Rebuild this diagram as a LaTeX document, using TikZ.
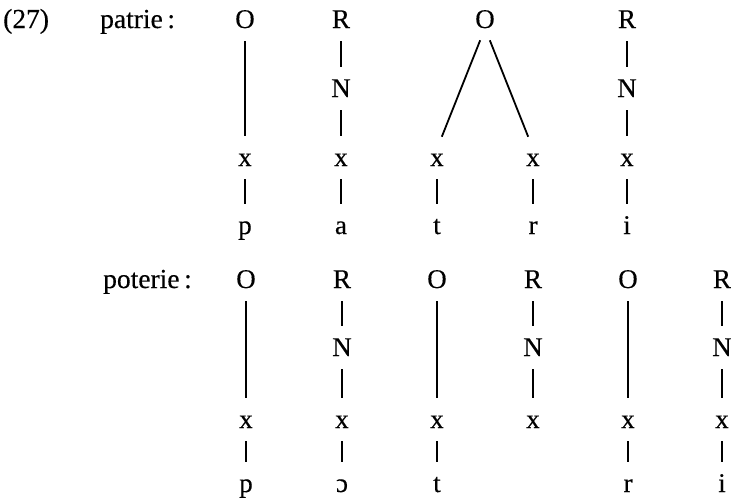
\documentclass[tikz,border=0pt]{standalone}
\usepackage{fontspec}
\setmainfont{Liberation Serif}[UprightFeatures={FakeBold=0.35}]
\begin{document}
\begin{tikzpicture}[x=1pt,y=-1pt,
  lab/.style={inner sep=0pt, anchor=base, font=\fontsize{27}{30}\selectfont, text height=17pt, text depth=0pt},
  side/.style={inner sep=0pt, anchor=base west, font=\fontsize{27.5}{30}\selectfont},
  seg/.style={line width=1.8pt, shorten <=13pt, shorten >=13pt}]
\useasboundingbox (0,0) rectangle (731,501);
% labels
\node[side] (num) at (3,28) {(27)};
\node[side] (w1) at (100,28) {patrie\,:};
\node[side] (w2) at (103,288) {poterie\,:};
% row 1
\node[lab] (aO) at (245,28) {O};
\node[lab] (ax1) at (245,166) {x};
\node[lab] (ap) at (245,234) {p};
\node[lab] (aR) at (341,28) {R};
\node[lab] (aN) at (341,97) {N};
\node[lab] (ax2) at (341,166) {x};
\node[lab] (aa) at (341,234) {a};
\node[lab] (aO2) at (485,28) {O};
\node[lab] (ax3) at (437,166) {x};
\node[lab] (at) at (437,234) {t};
\node[lab] (ax4) at (533,166) {x};
\node[lab] (ar) at (533,234) {r};
\node[lab] (aR2) at (627,28) {R};
\node[lab] (aN2) at (627,97) {N};
\node[lab] (ax5) at (627,166) {x};
\node[lab] (ai) at (627,234) {i};
\draw[seg] (aO.south) -- (ax1.north);
\draw[seg] (ax1.south) -- (ap.north);
\draw[seg] (aR.south) -- (aN.north);
\draw[seg] (aN.south) -- (ax2.north);
\draw[seg] (ax2.south) -- (aa.north);
\draw[seg] (aO2.south) -- (ax3.north);
\draw[seg] (aO2.south) -- (ax4.north);
\draw[seg] (ax3.south) -- (at.north);
\draw[seg] (ax4.south) -- (ar.north);
\draw[seg] (aR2.south) -- (aN2.north);
\draw[seg] (aN2.south) -- (ax5.north);
\draw[seg] (ax5.south) -- (ai.north);
% row 2
\node[lab] (bO1) at (246,288) {O};
\node[lab] (bx1) at (246,428) {x};
\node[lab] (bp) at (246,492) {p};
\node[lab] (bR1) at (342,288) {R};
\node[lab] (bN1) at (342,356) {N};
\node[lab] (bx2) at (342,428) {x};
\node[lab] (bo) at (342,492) {ɔ};
\node[lab] (bO2) at (437,288) {O};
\node[lab] (bx3) at (437,428) {x};
\node[lab] (bt) at (437,492) {t};
\node[lab] (bR2) at (533,288) {R};
\node[lab] (bN2) at (533,356) {N};
\node[lab] (bx4) at (533,428) {x};
\node[lab] (bO3) at (628,288) {O};
\node[lab] (bx5) at (628,428) {x};
\node[lab] (br) at (628,492) {r};
\node[lab] (bR3) at (722,288) {R};
\node[lab] (bN3) at (722,356) {N};
\node[lab] (bx6) at (722,428) {x};
\node[lab] (bi) at (722,492) {i};
\draw[seg] (bO1.south) -- (bx1.north);
\draw[seg] (bx1.south) -- (bp.north);
\draw[seg] (bR1.south) -- (bN1.north);
\draw[seg] (bN1.south) -- (bx2.north);
\draw[seg] (bx2.south) -- (bo.north);
\draw[seg] (bO2.south) -- (bx3.north);
\draw[seg] (bx3.south) -- (bt.north);
\draw[seg] (bR2.south) -- (bN2.north);
\draw[seg] (bN2.south) -- (bx4.north);
\draw[seg] (bO3.south) -- (bx5.north);
\draw[seg] (bx5.south) -- (br.north);
\draw[seg] (bR3.south) -- (bN3.north);
\draw[seg] (bN3.south) -- (bx6.north);
\draw[seg] (bx6.south) -- (bi.north);
\end{tikzpicture}
\end{document}
